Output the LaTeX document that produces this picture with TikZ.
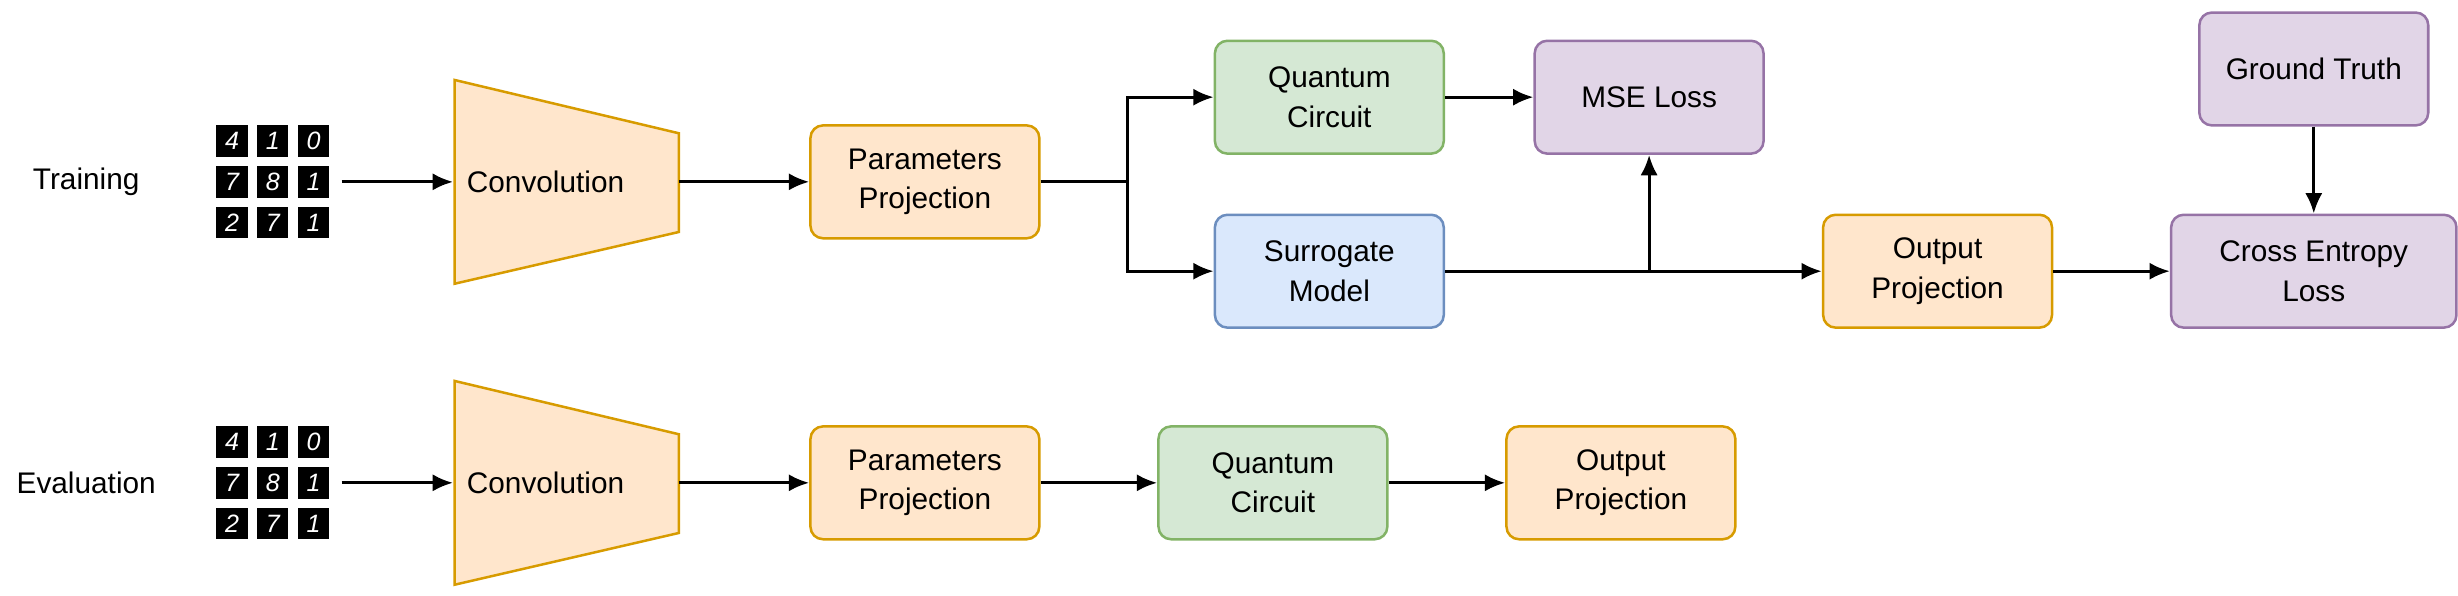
\documentclass[tikz,border=0pt]{standalone}
\usepackage{fontspec}
\setmainfont{Liberation Sans}
\usetikzlibrary{arrows.meta}
\definecolor{orF}{HTML}{FFE6CC}\definecolor{orS}{HTML}{D79B00}
\definecolor{grF}{HTML}{D5E8D4}\definecolor{grS}{HTML}{82B366}
\definecolor{blF}{HTML}{DAE8FC}\definecolor{blS}{HTML}{6C8EBF}
\definecolor{puF}{HTML}{E1D5E7}\definecolor{puS}{HTML}{9673A6}
\begin{document}
\begin{tikzpicture}[x=1pt,y=-1pt,font=\fontsize{19}{25}\selectfont,
 box/.style={rounded corners=8pt,line width=1.6pt,minimum width=146pt,minimum height=72pt,align=center},
 org/.style={box,fill=orF,draw=orS},grn/.style={box,fill=grF,draw=grS},
 blu/.style={box,fill=blF,draw=blS},pur/.style={box,fill=puF,draw=puS},
 arr/.style={line width=2pt,-{Latex[length=13pt,width=11pt]}},
 ln/.style={line width=2pt},
 dig/.style={fill=black,minimum size=20pt,inner sep=0pt,text=white,font=\fontsize{16}{16}\itshape}]
\useasboundingbox (0,0) rectangle (1568,380);
\node (tr) at (55,116) {Training};
\node (ev) at (55,308) {Evaluation};
% digit grids
\foreach \yy/\nm in {116/a,308/b}{
 \foreach \d [count=\i from 0] in {4,1,0,7,8,1,2,7,1}{
  \pgfmathsetmacro\cx{148+26*mod(\i,3)}
  \pgfmathsetmacro\cy{\yy-26+26*int(\i/3)}
  \node[dig] at (\cx,\cy) {\d};
 }
 \coordinate (g\nm) at (218,\yy);
}
% convolutions
\draw[fill=orF,draw=orS,line width=1.6pt] (290,51) -- (433,85) -- (433,148) -- (290,181) -- cycle;
\node (c1) at (348,116) {Convolution};
\coordinate (c1l) at (289,116); \coordinate (c1r) at (433,116);
\draw[fill=orF,draw=orS,line width=1.6pt] (290,243) -- (433,277) -- (433,340) -- (290,373) -- cycle;
\node (c2) at (348,308) {Convolution};
\coordinate (c2l) at (289,308); \coordinate (c2r) at (433,308);
% training row
\node[org] (pp) at (590,116) {Parameters\\Projection};
\node[grn] (qc) at (848,62) {Quantum\\Circuit};
\node[blu] (sm) at (848,173) {Surrogate\\Model};
\node[pur] (mse) at (1052,62) {MSE Loss};
\node[org] (op) at (1236,173) {Output\\Projection};
\node[pur,minimum width=182pt] (ce) at (1476,173) {Cross Entropy\\Loss};
\node[pur] (gt) at (1476,44) {Ground Truth};
\coordinate (sp) at (719,116);
\coordinate (br) at (1052,173);
\draw[arr] (ga) -- (c1l);
\draw[arr] (c1r) -- (pp);
\draw[ln] (pp.east) -- (sp);
\draw[arr] (sp) |- (qc.west);
\draw[arr] (sp) |- (sm.west);
\draw[arr] (qc) -- (mse);
\draw[arr] (sm) -- (op);
\draw[arr] (br) -- (mse.south);
\draw[arr] (op) -- (ce);
\draw[arr] (gt) -- (ce);
% evaluation row
\node[org] (pp2) at (590,308) {Parameters\\Projection};
\node[grn] (qc2) at (812,308) {Quantum\\Circuit};
\node[org] (op2) at (1034,308) {Output\\Projection};
\draw[arr] (gb) -- (c2l);
\draw[arr] (c2r) -- (pp2);
\draw[arr] (pp2) -- (qc2);
\draw[arr] (qc2) -- (op2);
\end{tikzpicture}
\end{document}
